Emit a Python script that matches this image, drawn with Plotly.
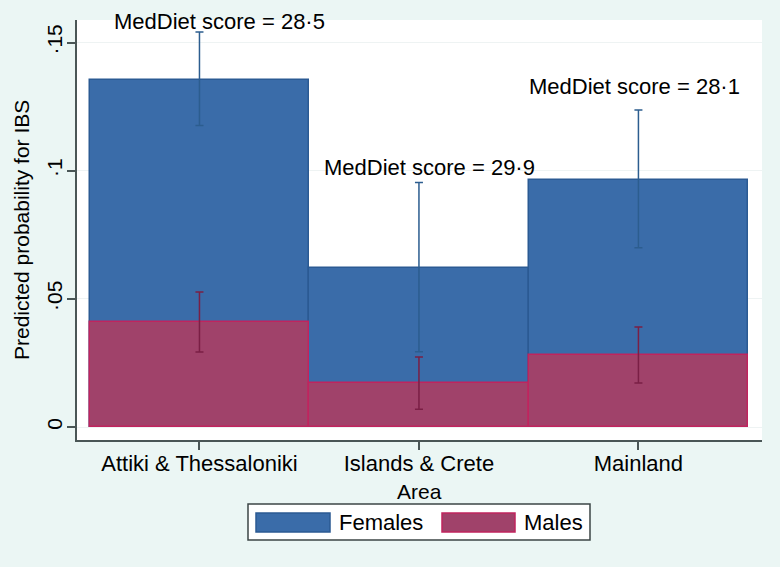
import plotly.graph_objects as go

# ---- data ----
areas = ["Attiki & Thessaloniki", "Islands & Crete", "Mainland"]
females = [0.1354, 0.0622, 0.0964]
females_lo = [0.1176, 0.0294, 0.0699]
females_hi = [0.1541, 0.0954, 0.1237]
males = [0.0411, 0.0171, 0.0281]
males_lo = [0.0293, 0.0069, 0.0172]
males_hi = [0.0527, 0.0273, 0.0390]
medDiet_scores = [28.5, 29.9, 28.1]
ytick_vals = [0, 0.05, 0.10, 0.15]
ytick_text = ["0", "·05", "·1", "·15"]

FONT = "Arial, Liberation Sans, sans-serif"
BG = "#ebf6f4"
xpos = list(range(len(areas)))

fig = go.Figure()
fig.add_trace(go.Bar(
    x=xpos, y=females, width=1.0, name="Females",
    marker=dict(color="#3a6ca9", line=dict(color="#2b5a93", width=1.5)),
    error_y=dict(type="data", symmetric=False,
                 array=[h - v for h, v in zip(females_hi, females)],
                 arrayminus=[v - l for v, l in zip(females, females_lo)],
                 color="#2c5d8f", thickness=1.5, width=4),
))
fig.add_trace(go.Bar(
    x=xpos, y=males, width=1.0, name="Males",
    marker=dict(color="#a0426a", line=dict(color="#c0245e", width=1.5)),
    error_y=dict(type="data", symmetric=False,
                 array=[h - v for h, v in zip(males_hi, males)],
                 arrayminus=[v - l for v, l in zip(males, males_lo)],
                 color="#7a1f45", thickness=1.5, width=4),
))

# score annotations
ann_x = [0.091, 1.046, 1.984]
ann_y = [0.1584, 0.1011, 0.1327]
annotations = []
for s, ax, ay in zip(medDiet_scores, ann_x, ann_y):
    annotations.append(dict(
        x=ax, y=ay, xref="x", yref="y", showarrow=False,
        text=f"MedDiet score = {s:.1f}".replace(".", "·"),
        font=dict(family=FONT, size=22, color="#000000"),
        xanchor="center", yanchor="middle"))

# y-axis title
annotations.append(dict(
    x=0, y=0.5, xref="paper", yref="paper", xshift=-56, showarrow=False,
    text="Predicted probability for IBS", textangle=-90,
    font=dict(family=FONT, size=21, color="#000000"),
    xanchor="center", yanchor="middle"))
# x-axis title
annotations.append(dict(
    x=0.5, y=-0.1238, xref="paper", yref="paper", showarrow=False,
    text="Area", font=dict(family=FONT, size=21, color="#000000"),
    xanchor="center", yanchor="middle"))

# custom legend
def px_x(p):
    return (p - 77) / 685.0

def px_y(p):
    return (440 - p) / 420.0

shapes = [
    dict(type="rect", xref="paper", yref="paper",
         x0=px_x(248), x1=px_x(590), y0=px_y(540), y1=px_y(504),
         fillcolor="#ffffff", line=dict(color="#3c4646", width=1.5)),
    dict(type="rect", xref="paper", yref="paper",
         x0=px_x(256), x1=px_x(330), y0=px_y(532), y1=px_y(513),
         fillcolor="#3a6ca9", line=dict(color="#2b5a93", width=1.5)),
    dict(type="rect", xref="paper", yref="paper",
         x0=px_x(442), x1=px_x(515), y0=px_y(532), y1=px_y(513),
         fillcolor="#a0426a", line=dict(color="#c0245e", width=1.5)),
]
annotations.append(dict(x=px_x(337), y=px_y(522.5), xref="paper", yref="paper",
                        showarrow=False, text="Females", xanchor="left", yanchor="middle",
                        font=dict(family=FONT, size=22, color="#000000")))
annotations.append(dict(x=px_x(522), y=px_y(522.5), xref="paper", yref="paper",
                        showarrow=False, text="Males", xanchor="left", yanchor="middle",
                        font=dict(family=FONT, size=22, color="#000000")))

fig.update_layout(
    width=780, height=567,
    margin=dict(l=77, r=18, t=20, b=127),
    paper_bgcolor=BG,
    plot_bgcolor="#ffffff",
    barmode="overlay",
    bargap=0,
    showlegend=False,
    annotations=annotations,
    shapes=shapes,
    font=dict(family=FONT, color="#000000"),
)
fig.update_xaxes(
    range=[-0.558, 2.563], tickvals=xpos, ticktext=areas,
    showline=True, linecolor="#4a5656", linewidth=1.5,
    ticks="outside", ticklen=8, tickcolor="#4a5656", tickwidth=1.5,
    ticklabelstandoff=-5,
    tickfont=dict(family=FONT, size=22, color="#000000"),
    showgrid=False, zeroline=False,
)
fig.update_yaxes(
    range=[-0.00507, 0.1588], tickvals=ytick_vals, ticktext=ytick_text,
    tickangle=-90,
    showline=True, linecolor="#4a5656", linewidth=1.5,
    ticks="outside", ticklen=8, tickcolor="#4a5656", tickwidth=1.5,
    ticklabelstandoff=-3,
    tickfont=dict(family=FONT, size=21, color="#000000"),
    showgrid=True, gridcolor="#eef3f3", gridwidth=1, zeroline=False,
)

fig.write_html(
    "out.html",
    config={"displayModeBar": False},
    post_script=f"document.body.style.margin='0';document.body.style.background='{BG}';document.body.style.overflow='hidden';",
)
